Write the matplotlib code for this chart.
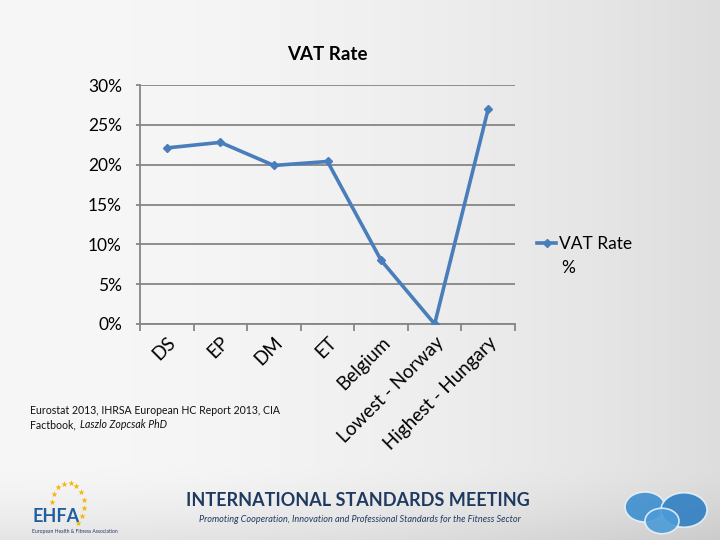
import numpy as np
import matplotlib
matplotlib.use("Agg")
import matplotlib.pyplot as plt
from matplotlib.ticker import FixedLocator, PercentFormatter
from matplotlib.patches import Circle

plt.rcParams['font.family'] = ['Lato', 'DejaVu Sans']

categories = ["DS", "EP", "DM", "ET", "Belgium", "Lowest - Norway", "Highest - Hungary"]
vat_rate = [22.1, 22.8, 19.9, 20.4, 8.0, 0.0, 27.0]
y_ticks = [0, 5, 10, 15, 20, 25, 30]

W, H = 720, 540
fig = plt.figure(figsize=(7.2, 5.4), dpi=100)

# background gradient (RGB, smooth)
bg = fig.add_axes([0, 0, 1, 1], zorder=-10)
gx = np.linspace(0, 1, 720)
gy = np.linspace(0, 1, 540)[:, None]
val = 0.968 - 0.10 * gx[None, :] ** 2.0 - 0.07 * np.clip((gy - 0.86) / 0.14, 0, 1) ** 1.5
img = np.dstack([val, val, val])
bg.imshow(np.clip(img, 0, 1), aspect='auto', extent=[0, 1, 0, 1], interpolation='bilinear')
bg.set_xlim(0, 1); bg.set_ylim(0, 1)
bg.axis('off')

ax = fig.add_axes([140 / W, 1 - 324 / H, (515 - 140) / W, (324 - 85) / H])
ax.patch.set_alpha(0)
x = np.arange(len(categories))
ax.plot(x, vat_rate, color='#4A7EBB', lw=2.6, marker='D', ms=4.5,
        markerfacecolor='#4A7EBB', markeredgecolor='#4A7EBB', label='VAT Rate', zorder=3)
ax.set_xlim(-0.5, len(categories) - 0.5)
ax.set_ylim(0, 30)
ax.yaxis.set_major_locator(FixedLocator(y_ticks))
ax.yaxis.set_major_formatter(PercentFormatter(decimals=0))
ax.grid(axis='y', color='#868686', lw=1.3)
ax.set_axisbelow(True)
for s in ['top', 'right']:
    ax.spines[s].set_visible(False)
for s in ['left', 'bottom']:
    ax.spines[s].set_color('#868686')
    ax.spines[s].set_linewidth(1.3)
ax.set_xticks(x)
ax.set_xticklabels(categories, rotation=45, ha='right', va='top', rotation_mode='anchor',
                   fontsize=13.5, color='#000000')
ax.tick_params(axis='x', which='major', length=0, pad=7)
ax.set_xticks(np.arange(-0.5, len(categories)), minor=True)
ax.tick_params(axis='x', which='minor', length=5, width=1.3, color='#868686', direction='out')
ax.tick_params(axis='y', length=3, width=1.3, color='#868686', labelsize=12.5, pad=10)

ax.set_title('VAT Rate', fontsize=13.5, fontweight='bold', pad=18)

leg = ax.legend(loc='center left', bbox_to_anchor=(537 / W, 1 - 244 / H), bbox_transform=fig.transFigure,
                frameon=False, fontsize=12.5, handlelength=1.1, handletextpad=0.15,
                borderpad=0, borderaxespad=0)
fig.text(561 / W, 1 - 268 / H, '%', fontsize=12.5, ha='left', va='center')

# source note
fig.text(30 / W, 1 - 411 / H, 'Eurostat 2013, IHRSA European HC Report 2013, CIA',
         fontsize=7.6, va='center', ha='left', color='#111111')
t1 = fig.text(30 / W, 1 - 425 / H, 'Factbook,', fontsize=7.6, va='center', ha='left', color='#111111')
t2 = fig.text(0, 1 - 425 / H, 'Laszlo Zopcsak PhD', fontsize=7.6, va='center', ha='left',
              style='italic', color='#111111')
fig.canvas.draw()
bb = t1.get_window_extent()
t2.set_position(((bb.x1 + 4) / W, 1 - 425 / H))

# footer
fig.text(358 / W, 1 - 501 / H, 'INTERNATIONAL STANDARDS MEETING', fontsize=13, fontweight='bold',
         color='#1F3A60', ha='center', va='center')
fig.text(360 / W, 1 - 520 / H,
         'Promoting Cooperation, Innovation and Professional Standards for the Fitness Sector',
         fontsize=6.6, style='italic', color='#1F3A60', ha='center', va='center')
fig.text(32 / W, 1 - 517 / H, 'EHFA', fontsize=13, fontweight='bold', color='#1F5FA0',
         ha='left', va='center')
fig.text(32 / W, 1 - 531 / H, 'European Health & Fitness Association', fontsize=3.6,
         color='#1F3A60', ha='left', va='center')
theta = np.linspace(np.pi * 0.95, np.pi * -0.3, 11)
sx = 68 + 18 * np.cos(theta) * 0.9
sy = 1 - (505 - 22 * np.sin(theta)) / H
bg.scatter(sx / W, sy, marker='*', s=22, color='#F2B705', lw=0)

for cx, cy, r, c in [(645, 507, 20, '#3D8FCF'), (684, 510, 23, '#2F7FC2'), (662, 521, 17, '#4C9BD8')]:
    bg.add_patch(Circle((cx / W, 1 - cy / H), r / W, transform=bg.transAxes,
                        facecolor=c, edgecolor='#e8f2fa', lw=1.2, alpha=0.9))

fig.savefig('out.png', dpi=100)
